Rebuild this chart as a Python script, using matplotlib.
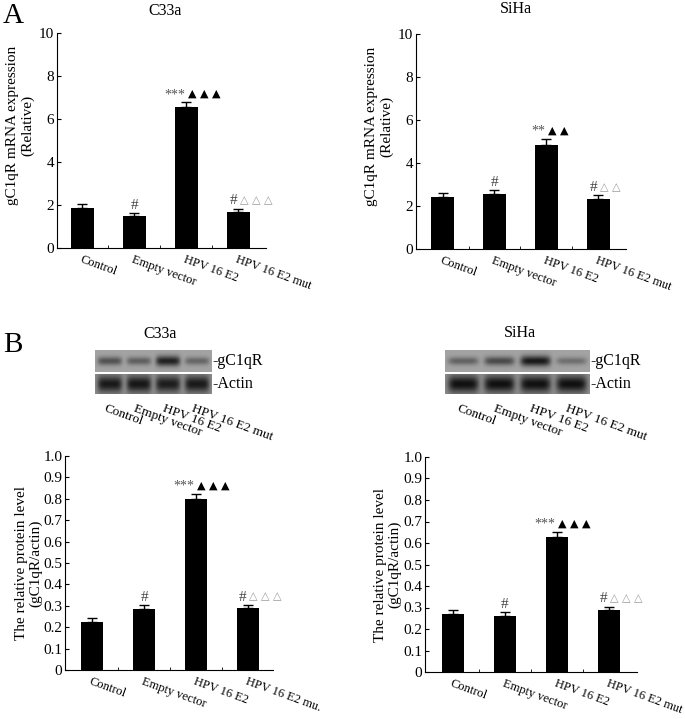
import numpy as np
import matplotlib
matplotlib.use("Agg")
import matplotlib.pyplot as plt

plt.rcParams['font.family'] = ['Liberation Serif', 'DejaVu Sans']

groups = ["Control", "Empty vector", "HPV 16 E2", "HPV 16 E2 mut"]
groups_b1 = ["Control", "Empty vector", "HPV 16 E2", "HPV 16 E2 mu."]

# A: mRNA (relative)
c33a_mrna = [1.85, 1.48, 6.55, 1.68]
c33a_mrna_err = [0.18, 0.13, 0.22, 0.15]
siha_mrna = [2.43, 2.57, 4.86, 2.32]
siha_mrna_err = [0.18, 0.16, 0.24, 0.17]

# B: protein (gC1qR/actin)
c33a_prot = [0.226, 0.286, 0.80, 0.289]
c33a_prot_err = [0.016, 0.017, 0.022, 0.014]
siha_prot = [0.27, 0.26, 0.63, 0.288]
siha_prot_err = [0.018, 0.017, 0.022, 0.015]

# significance marks: (left part, right part) per bar
c33a_mrna_sig = [("", ""), ("#", ""), ("***", "▲ ▲ ▲"), ("#", "△ △ △")]
siha_mrna_sig = [("", ""), ("#", ""), ("**", "▲ ▲"), ("#", "△ △")]
c33a_prot_sig = [("", ""), ("#", ""), ("***", "▲ ▲ ▲"), ("#", "△ △ △")]
siha_prot_sig = [("", ""), ("#", ""), ("***", "▲ ▲ ▲"), ("#", "△ △ △")]

# western blot band strength per lane (0..1)
c33a_gc1qr_band = [0.50, 0.42, 0.80, 0.38]
c33a_actin_band = [0.82, 0.84, 0.80, 0.82]
siha_gc1qr_band = [0.40, 0.55, 0.85, 0.32]
siha_actin_band = [0.88, 0.88, 0.88, 0.88]

W, H = 685, 719
fig = plt.figure(figsize=(W / 100, H / 100), dpi=100)


def px_axes(x0, y0, x1, y1):
    return fig.add_axes([x0 / W, 1 - y1 / H, (x1 - x0) / W, (y1 - y0) / H])


def bar_panel(ax, vals, errs, sig, labels, ymax, yticks, yticklabels, ylabel, label_y, xlim):
    x = np.arange(len(vals))
    ax.bar(x, vals, width=0.44, color='black',
           yerr=[np.zeros(len(errs)), errs], capsize=3.5,
           error_kw=dict(elinewidth=1.0, capthick=1.0, ecolor='black'))
    ax.set_xlim(*xlim)
    ax.set_ylim(0, ymax)
    ax.spines['top'].set_visible(False)
    ax.spines['right'].set_visible(False)
    ax.set_yticks(yticks)
    ax.set_yticklabels(yticklabels, fontsize=11)
    ax.tick_params(axis='y', direction='in', length=3, pad=2)
    ax.set_xticks(x)
    ax.set_xticklabels(labels, rotation=-20, ha='left', va='top',
                       rotation_mode='anchor', fontsize=9)
    ax.set_xticks(x[:-1] + 0.5, minor=True)
    ax.tick_params(axis='x', which='major', length=0, pad=4)
    ax.tick_params(axis='x', which='minor', direction='in', length=2)
    ax.set_ylabel(ylabel, fontsize=11, linespacing=1.1)
    ax.yaxis.set_label_coords(-0.11, label_y)
    for i, (left, right) in enumerate(sig):
        top = vals[i] + errs[i]
        if left == "#" and right == "":
            ax.annotate("#", (x[i], top), xytext=(0, 1), textcoords='offset points',
                        ha='center', va='bottom', fontsize=11, color='#444444')
            continue
        if left:
            col = '#555555' if left.startswith('*') else '#444444'
            ax.annotate(left, (x[i], top), xytext=(-1, 1), textcoords='offset points',
                        ha='right', va='bottom', fontsize=10 if left.startswith('*') else 11,
                        color=col)
        if right:
            col = 'black' if right.startswith('▲') else '#999999'
            ax.annotate(right, (x[i], top), xytext=(1, 2.5), textcoords='offset points',
                        ha='left', va='bottom', fontsize=8, color=col,
                        family='DejaVu Sans')


def blot_strip(ax, bands, bg, thick):
    nx, ny = 160, 30
    xs = np.linspace(0, len(bands), nx)
    ys = np.linspace(0, 1, ny)
    X, Y = np.meshgrid(xs, ys)
    img = np.full_like(X, bg)
    for i, b in enumerate(bands):
        prof_x = np.exp(-((X - (i + 0.5)) / 0.42) ** 6)
        prof_y = np.exp(-((Y - 0.5) / (thick * (0.6 + 0.6 * b))) ** 2)
        img = img - bg * b * prof_x * prof_y
    ax.imshow(img, cmap='gray', vmin=0, vmax=1, aspect='auto',
              extent=(0, len(bands), 0, 1), interpolation='bilinear')
    ax.set_xticks([])
    ax.set_yticks([])
    for s in ax.spines.values():
        s.set_visible(False)


def blot(x0, x1, gband, aband, lane_labels):
    top = px_axes(x0, 350, x1, 372)
    blot_strip(top, gband, 0.64, 0.22)
    bot = px_axes(x0, 374, x1, 394)
    blot_strip(bot, aband, 0.55, 0.38)
    top.text(1.0, 0.5, "-gC1qR", transform=top.transAxes, ha='left', va='center', fontsize=11.5)
    bot.text(1.0, 0.5, "-Actin", transform=bot.transAxes, ha='left', va='center', fontsize=11.5)
    for i, lab in enumerate(lane_labels):
        bot.text(i + 0.4, -0.45, lab, transform=bot.transData, rotation=-20,
                 ha='left', va='top', rotation_mode='anchor', fontsize=9.5)


# panel A
axA1 = px_axes(57, 33, 266, 248)
bar_panel(axA1, c33a_mrna, c33a_mrna_err, c33a_mrna_sig, groups, 10,
          [0, 2, 4, 6, 8, 10], ["0", "2", "4", "6", "8", "10"],
          "gC1qR mRNA expression\n(Relative)", 0.57, (-0.49, 3.53))
axA2 = px_axes(416, 34, 626, 249)
bar_panel(axA2, siha_mrna, siha_mrna_err, siha_mrna_sig, groups, 10,
          [0, 2, 4, 6, 8, 10], ["0", "2", "4", "6", "8", "10"],
          "gC1qR mRNA expression\n(Relative)", 0.57, (-0.51, 3.53))

# panel B
pticks = [round(0.1 * i, 1) for i in range(11)]
plabels = ["0"] + ["%.1f" % t for t in pticks[1:]]
axB1 = px_axes(65, 456, 273, 670)
bar_panel(axB1, c33a_prot, c33a_prot_err, c33a_prot_sig, groups_b1, 1.0,
          pticks, plabels, "The relative protein level\n(gC1qR/actin)", 0.5, (-0.52, 3.48))
axB2 = px_axes(425, 457, 637, 672)
bar_panel(axB2, siha_prot, siha_prot_err, siha_prot_sig, groups, 1.0,
          pticks, plabels, "The relative protein level\n(gC1qR/actin)", 0.5, (-0.54, 3.54))

blot(95, 212, c33a_gc1qr_band, c33a_actin_band, groups)
blot(445, 590, siha_gc1qr_band, siha_actin_band, groups)

# titles and panel letters
fig.text(165 / W, 1 - 11 / H, "C33a", ha='center', va='center', fontsize=11.5)
fig.text(516 / W, 1 - 9 / H, "SiHa", ha='center', va='center', fontsize=11.5)
fig.text(160 / W, 1 - 334 / H, "C33a", ha='center', va='center', fontsize=11.5)
fig.text(520 / W, 1 - 333 / H, "SiHa", ha='center', va='center', fontsize=11.5)
fig.text(3 / W, 1 - 16 / H, "A", ha='left', va='center', fontsize=21)
fig.text(3 / W, 1 - 345 / H, "B", ha='left', va='center', fontsize=21)

fig.savefig("out.png", dpi=100)
